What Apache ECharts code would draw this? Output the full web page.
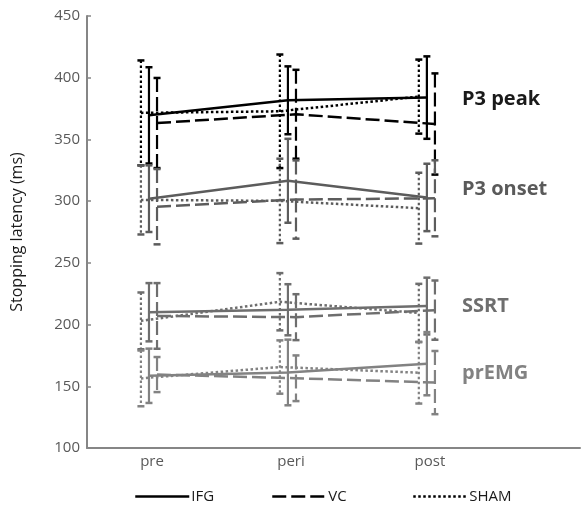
<!DOCTYPE html>
<html>
<head>
<meta charset="utf-8">
<script src="https://cdn.jsdelivr.net/npm/echarts@6/dist/echarts.min.js"></script>
<style>
  html, body { margin: 0; padding: 0; background: #fff; }
  #chart { width: 581px; height: 506px; }
</style>
</head>
<body>
<div id="chart"></div>
<script>
"use strict";

// time points and groups
var phases = ['pre', 'peri', 'post'];
var conditions = ['IFG', 'VC', 'SHAM'];
var measures = ['P3 peak', 'P3 onset', 'SSRT', 'prEMG'];

// mean stopping latency (ms), per condition, pre / peri / post
var p3peakIFG = [369.5, 381.7, 383.9];
var p3peakVC = [363.3, 370.4, 362.5];
var p3peakSHAM = [371.5, 372.8, 384.7];
var p3onsetIFG = [302, 316.5, 303];
var p3onsetVC = [295.5, 301.3, 302.3];
var p3onsetSHAM = [301, 300.2, 294.3];
var ssrtIFG = [210, 212, 215];
var ssrtVC = [207, 206, 211.7];
var ssrtSHAM = [203, 218.5, 209.4];
var premgIFG = [158.5, 161.2, 168.3];
var premgVC = [159.5, 156.5, 153];
var premgSHAM = [156.4, 165.6, 161];

// error bar half widths (ms)
var p3peakIFGErr = [39, 27.5, 33.4];
var p3peakVCErr = [36.5, 36, 41];
var p3peakSHAMErr = [42.5, 46, 30];
var p3onsetIFGErr = [27, 34, 27.3];
var p3onsetVCErr = [30.5, 31.7, 30.8];
var p3onsetSHAMErr = [28, 34.2, 28.7];
var ssrtIFGErr = [23.6, 20.7, 23];
var ssrtVCErr = [26.6, 18.6, 24];
var ssrtSHAMErr = [23, 23.2, 23.6];
var premgIFGErr = [22, 26.6, 25.6];
var premgVCErr = [14.2, 18.5, 25.6];
var premgSHAMErr = [22.6, 21.6, 25];

var yTicks = [100, 150, 200, 250, 300, 350, 400, 450];

var means = {
  'P3 peak': { IFG: p3peakIFG, VC: p3peakVC, SHAM: p3peakSHAM },
  'P3 onset': { IFG: p3onsetIFG, VC: p3onsetVC, SHAM: p3onsetSHAM },
  'SSRT': { IFG: ssrtIFG, VC: ssrtVC, SHAM: ssrtSHAM },
  'prEMG': { IFG: premgIFG, VC: premgVC, SHAM: premgSHAM }
};
var errs = {
  'P3 peak': { IFG: p3peakIFGErr, VC: p3peakVCErr, SHAM: p3peakSHAMErr },
  'P3 onset': { IFG: p3onsetIFGErr, VC: p3onsetVCErr, SHAM: p3onsetSHAMErr },
  'SSRT': { IFG: ssrtIFGErr, VC: ssrtVCErr, SHAM: ssrtSHAMErr },
  'prEMG': { IFG: premgIFGErr, VC: premgVCErr, SHAM: premgSHAMErr }
};

// styling
var measureColor = { 'P3 peak': '#000000', 'P3 onset': '#5c5c5c', 'SSRT': '#6e6e6e', 'prEMG': '#828282' };
var labelColor = { 'P3 peak': '#1a1a1a', 'P3 onset': '#5a5a5a', 'SSRT': '#6e6e6e', 'prEMG': '#828282' };
var dashFor = { IFG: 'solid', VC: [14, 5], SHAM: [2.5, 2.5] };
var xShift = { IFG: -0.022, VC: 0.036, SHAM: -0.08 }; // small horizontal dodge
var legendLeft = { IFG: 129, VC: 266, SHAM: 407 };
var FONT = 'Open Sans';

var series = [];
measures.forEach(function (m) {
  conditions.forEach(function (c) {
    series.push({
      name: c,
      type: 'line',
      symbol: 'none',
      z: 3,
      lineStyle: { color: measureColor[m], width: 2.5, type: dashFor[c], cap: 'butt' },
      itemStyle: { color: measureColor[m] },
      data: means[m][c].map(function (v, i) { return [i + xShift[c], v]; })
    });
  });
});

measures.forEach(function (m) {
  conditions.forEach(function (c) {
    var col = measureColor[m];
    series.push({
      name: c,
      type: 'custom',
      z: 2,
      silent: true,
      renderItem: function (params, api) {
        var top = api.coord([api.value(0), api.value(2)]);
        var bot = api.coord([api.value(0), api.value(1)]);
        var w = 3.5;
        return {
          type: 'group',
          children: [
            { type: 'line', shape: { x1: top[0], y1: top[1], x2: bot[0], y2: bot[1] },
              style: { stroke: col, lineWidth: 2.2, lineDash: dashFor[c] === 'solid' ? null : dashFor[c] } },
            { type: 'line', shape: { x1: top[0] - w, y1: top[1], x2: top[0] + w, y2: top[1] },
              style: { stroke: col, lineWidth: 2.5 } },
            { type: 'line', shape: { x1: bot[0] - w, y1: bot[1], x2: bot[0] + w, y2: bot[1] },
              style: { stroke: col, lineWidth: 2.5 } }
          ]
        };
      },
      encode: { x: 0, y: [1, 2] },
      data: means[m][c].map(function (v, i) {
        var e = errs[m][c][i];
        return [i + xShift[c], v - e, v + e];
      })
    });
  });
});

var chart = echarts.init(document.getElementById('chart'));

// measure names written beside the lines
var sideLabels = [
  { m: 'P3 peak', y: 103 },
  { m: 'P3 onset', y: 193 },
  { m: 'SSRT', y: 310 },
  { m: 'prEMG', y: 377 }
].map(function (d) {
  return {
    type: 'text', left: 462, top: d.y - 14,
    style: { text: d.m, fill: labelColor[d.m], font: 'bold 20px "' + FONT + '"' }
  };
});

// one legend per condition so each can sit where the original has it
var legends = conditions.map(function (c) {
  return {
    data: [{ name: c, itemStyle: { opacity: 0 }, lineStyle: { color: '#000', width: 2.5, type: dashFor[c] } }],
    left: legendLeft[c],
    bottom: -3,
    itemWidth: 54,
    itemHeight: 14,
    textStyle: { color: '#1a1a1a', fontSize: 15, fontFamily: FONT, padding: [0, 0, 0, -3] }
  };
});

var option = {
  backgroundColor: '#ffffff',
  animation: false,
  grid: { left: 87, right: 1, top: 16, bottom: 58 },
  xAxis: {
    type: 'value',
    min: -0.468,
    max: 3.08,
    axisLine: { show: true, onZero: false, lineStyle: { color: '#868686', width: 2 } },
    axisTick: { show: false },
    splitLine: { show: false },
    axisLabel: {
      customValues: [0, 1, 2],
      formatter: function (v) { return phases[Math.round(v)]; },
      color: '#595959', fontSize: 15, fontFamily: FONT, margin: 6
    }
  },
  yAxis: {
    type: 'value',
    min: yTicks[0],
    max: yTicks[yTicks.length - 1],
    interval: 50,
    name: 'Stopping latency (ms)',
    nameLocation: 'middle',
    nameRotate: 90,
    nameGap: 62,
    nameTextStyle: { color: '#1a1a1a', fontSize: 16, fontFamily: FONT },
    axisLine: { show: true, onZero: false, lineStyle: { color: '#868686', width: 2 } },
    axisTick: { show: true, inside: true, length: 4, lineStyle: { color: '#868686', width: 1.5 } },
    splitLine: { show: false },
    axisLabel: { color: '#595959', fontSize: 15, fontFamily: FONT, margin: 7 }
  },
  legend: legends,
  graphic: sideLabels,
  series: series
};

chart.setOption(option);
</script>
</body>
</html>
